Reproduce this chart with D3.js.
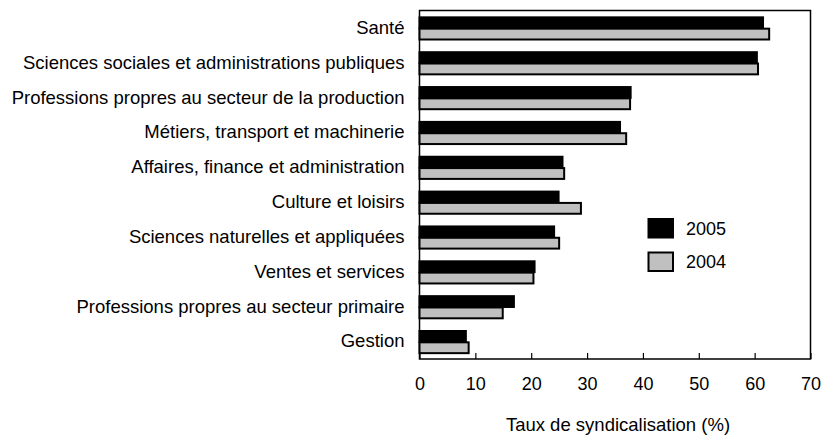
<!DOCTYPE html>
<html><head><meta charset="utf-8">
<script src="https://cdn.jsdelivr.net/npm/d3@7"></script>
<style>body{margin:0;background:#fff}svg{display:block}text{font-family:"Liberation Sans",Arial,sans-serif;fill:#000}</style>
</head><body><svg id="c" width="822" height="437"></svg>
<script>
const categories = ["Santé","Sciences sociales et administrations publiques","Professions propres au secteur de la production","Métiers, transport et machinerie","Affaires, finance et administration","Culture et loisirs","Sciences naturelles et appliquées","Ventes et services","Professions propres au secteur primaire","Gestion"];
const values2005 = [61.5,60.4,37.8,35.9,25.6,24.9,24.1,20.6,16.9,8.3];
const values2004 = [62.6,60.6,37.7,37.0,25.9,28.9,25.0,20.4,14.9,8.8];
const seriesNames = ["2005","2004"];
const xTicks = [0,10,20,30,40,50,60,70];
const axisTitle = "Taux de syndicalisation (%)";

const svg = d3.select("#c");
const L = 419.5, R = 810.5, T = 10.5, B = 359;
const x = d3.scaleLinear().domain([0,70]).range([L,R]);
const y = d3.scaleBand().domain(categories).range([T,B]).paddingInner(0.35).paddingOuter(0.175);
const sub = d3.scaleBand().domain(seriesNames).range([0,y.bandwidth()]);
const fills = {"2005":"#000","2004":"#c0c0c0"};
const data = categories.map((c,i)=>({c, v:{"2005":values2005[i],"2004":values2004[i]}}));

// frame
svg.append("rect").attr("x",L).attr("y",T).attr("width",R-L).attr("height",B-T).attr("fill","none").attr("stroke","#000").attr("stroke-width",1.5);

const g = svg.append("g");
data.forEach(d=>{
  seriesNames.forEach(s=>{
    g.append("rect").attr("x",x(0)).attr("y",y(d.c)+sub(s)+0.75)
     .attr("width",x(d.v[s])-x(0)).attr("height",sub.bandwidth()-0.5)
     .attr("fill",fills[s]).attr("stroke","#000").attr("stroke-width",2);
  });
});

// x axis ticks (inward)
const xa = svg.append("g").attr("transform",`translate(0,${B})`)
  .call(d3.axisBottom(x).tickValues(xTicks).tickSize(-6).tickPadding(0).tickFormat(d3.format("d")));
xa.select(".domain").remove();
xa.selectAll("line").attr("stroke","#000").attr("stroke-width",1.2);
xa.selectAll("text").attr("font-size",18).attr("font-family","Liberation Sans, Arial, sans-serif").attr("y",31).attr("dy",0);

// y axis labels
const ya = svg.append("g").attr("transform",`translate(${L},0)`)
  .call(d3.axisLeft(y).tickSize(0).tickPadding(15));
ya.select(".domain").remove();
ya.selectAll("text").attr("font-size",18.5).attr("font-family","Liberation Sans, Arial, sans-serif");

svg.append("text").attr("x",(L+R)/2+3).attr("y",431).attr("text-anchor","middle").attr("font-size",18.5).text(axisTitle);

// legend
const leg = svg.append("g");
seriesNames.forEach((s,i)=>{
  const yy = 219 + i*33.5;
  leg.append("rect").attr("x",648.5).attr("y",yy).attr("width",24.5).attr("height",18.5).attr("fill",fills[s]).attr("stroke","#000").attr("stroke-width",2);
  leg.append("text").attr("x",686).attr("y",yy+9.5).attr("dy","0.35em").attr("font-size",18).text(s);
});
</script></body></html>
